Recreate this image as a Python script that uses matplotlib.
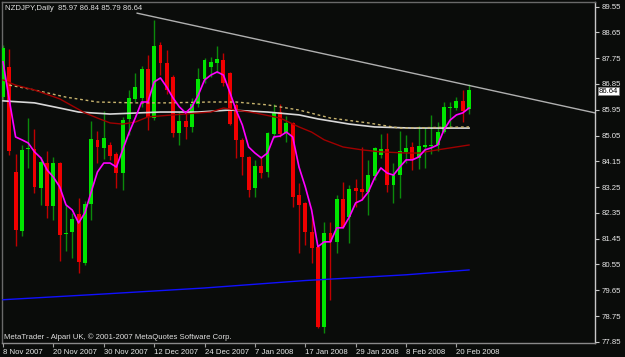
import matplotlib
matplotlib.use('Agg')
import matplotlib.pyplot as plt
from matplotlib.transforms import blended_transform_factory

plt.rcParams['font.family'] = ['Liberation Sans', 'DejaVu Sans']

# ---- data (NZDJPY daily, 8 Nov 2007 .. 22 Feb 2008) ----
opens = [86.39, 87.44, 83.78, 81.72, 84.58, 84.58, 83.22, 84.09, 82.59, 84.09,
         81.62, 81.69, 82.31, 80.61, 82.66, 84.90, 84.62, 84.72, 84.41, 83.74,
         85.63, 86.33, 86.36, 87.37, 85.66, 88.21, 87.58, 87.09, 85.14, 85.56,
         85.35, 86.15, 87.02, 87.44, 87.58, 87.68, 87.23, 86.12, 84.90, 84.30,
         83.22, 83.99, 83.78, 85.10, 85.87, 85.14, 85.49, 82.98, 82.70, 81.69,
         81.17, 78.38, 81.65, 81.34, 82.84, 82.21, 83.22, 83.19, 83.08, 83.64,
         84.37, 84.58, 83.33, 83.67, 84.48, 84.65, 84.27, 84.65, 84.69, 84.72,
         85.17, 86.01, 86.01, 86.26, 85.97]
highs = [88.21, 88.07, 84.41, 84.72, 85.66, 85.28, 84.30, 84.51, 84.30, 84.13,
         82.63, 82.35, 82.87, 82.77, 85.56, 85.21, 85.91, 84.83, 84.48, 85.70,
         86.64, 87.23, 87.48, 87.86, 89.08, 88.31, 88.03, 87.16, 85.87, 85.87,
         86.36, 87.41, 87.75, 87.79, 88.17, 87.93, 87.27, 86.19, 84.97, 84.34,
         84.20, 84.30, 85.17, 86.15, 86.15, 85.73, 85.52, 83.40, 82.73, 82.28,
         81.20, 82.04, 82.04, 82.98, 83.43, 83.33, 83.54, 84.65, 84.20, 84.65,
         85.10, 85.14, 84.09, 85.21, 85.07, 84.83, 85.38, 85.31, 85.77, 85.52,
         86.22, 86.22, 86.39, 86.64, 86.84]
lows = [86.29, 84.37, 81.20, 81.55, 83.92, 83.05, 82.63, 82.18, 82.11, 80.68,
        81.03, 80.78, 80.26, 80.54, 82.11, 84.09, 84.23, 84.20, 83.22, 83.15,
        85.07, 86.22, 86.05, 85.24, 85.59, 87.16, 86.50, 85.00, 84.72, 84.93,
        85.17, 86.05, 86.88, 87.09, 87.23, 86.78, 85.42, 84.27, 83.67, 82.91,
        82.91, 83.57, 83.60, 84.97, 85.00, 84.83, 82.56, 80.95, 81.23, 80.61,
        78.34, 78.17, 79.32, 80.95, 81.83, 81.30, 82.56, 82.80, 82.28, 83.50,
        84.27, 83.08, 82.70, 82.87, 84.09, 83.85, 83.88, 83.92, 84.41, 84.51,
        85.14, 85.31, 85.94, 85.52, 85.79]
closes = [88.10, 84.51, 81.76, 84.55, 84.62, 83.26, 84.13, 82.59, 84.09, 81.58,
          81.65, 82.14, 80.64, 82.66, 84.93, 84.65, 84.97, 84.34, 83.74, 85.59,
          86.36, 86.74, 87.37, 85.70, 88.17, 87.58, 86.64, 85.14, 85.56, 85.35,
          86.15, 87.02, 87.68, 87.62, 87.72, 86.88, 85.45, 84.90, 84.30, 83.15,
          83.99, 83.74, 85.14, 85.84, 85.10, 85.49, 82.91, 82.63, 81.69, 81.13,
          78.38, 81.65, 81.34, 82.84, 81.86, 83.19, 83.12, 83.08, 83.67, 84.62,
          84.58, 83.33, 83.67, 84.51, 84.62, 84.23, 84.69, 84.72, 84.72, 85.17,
          86.05, 86.05, 86.26, 85.91, 86.64]

# magenta fast moving average, one value per bar
ma_fast = [87.62, 86.29, 85.00, 84.90, 84.79, 84.48, 84.27, 83.85, 83.60, 83.26,
           82.63, 82.45, 82.00, 82.35, 83.08, 83.78, 84.09, 84.09, 83.95, 84.55,
           85.14, 85.66, 86.22, 86.22, 86.92, 87.06, 86.74, 86.36, 86.05, 85.84,
           86.05, 86.46, 86.99, 87.16, 87.27, 87.16, 86.57, 85.94, 85.42, 84.65,
           84.44, 84.27, 84.44, 85.00, 85.03, 85.17, 85.00, 83.95, 83.26, 82.45,
           81.17, 81.34, 81.34, 81.83, 81.83, 82.21, 82.70, 82.80, 83.08, 83.57,
           83.92, 83.74, 83.67, 83.95, 84.20, 84.20, 84.30, 84.55, 84.62, 84.72,
           85.24, 85.59, 85.77, 85.84, 86.01]

# dark red moving average (sampled)
ma_mid_idx = [0, 2, 5, 9, 13, 15, 17, 19, 21, 23, 27, 33, 35, 40, 44, 47, 49,
              51, 54, 57, 60, 64, 66, 69, 74]
ma_mid = [86.99, 86.81, 86.64, 86.33, 85.84, 85.66, 85.49, 85.45, 85.52, 85.70,
          85.77, 85.87, 86.01, 85.84, 85.66, 85.35, 85.17, 84.90, 84.65, 84.55,
          84.48, 84.44, 84.44, 84.55, 84.72]

# khaki dotted moving average (sampled)
ma_slow_idx = [1, 5, 10, 15, 21, 26, 33, 37, 42, 47, 52, 58, 63, 74]
ma_slow = [86.81, 86.64, 86.39, 86.22, 86.19, 86.19, 86.22, 86.22, 86.12, 85.94,
           85.66, 85.49, 85.31, 85.35]

# light grey moving average (sampled)
ma_long_idx = [0, 5, 9, 12, 17, 25, 31, 36, 42, 47, 50, 55, 59, 65, 74]
ma_long = [86.26, 86.19, 86.01, 85.87, 85.80, 85.87, 85.87, 85.94, 85.87, 85.77,
           85.63, 85.45, 85.35, 85.31, 85.31]

# blue long-term line (sampled)
blue_idx = [0, 16, 32, 48, 64, 74]
blue_vals = [79.32, 79.52, 79.73, 79.99, 80.19, 80.36]

# drawn trend line (anchor points)
trend_idx = [21.3, 94.0]
trend_vals = [89.32, 85.84]

date_idx = [0, 8, 16, 24, 32, 40, 48, 56, 64, 72]
date_labels = ['8 Nov 2007', '20 Nov 2007', '30 Nov 2007', '12 Dec 2007',
               '24 Dec 2007', '7 Jan 2008', '17 Jan 2008', '29 Jan 2008',
               '8 Feb 2008', '20 Feb 2008']
price_ticks = [77.85, 78.75, 79.65, 80.55, 81.45, 82.35, 83.25, 84.15, 85.05,
               85.95, 86.85, 87.75, 88.65, 89.55]

title_text = 'NZDJPY,Daily  85.97 86.84 85.79 86.64'
footer_text = 'MetaTrader - Alpari UK, \u00a9 2001-2007 MetaQuotes Software Corp.'
last_price = 86.64

# ---- figure ----
BG = '#0a0c0a'
FS = 5.6
W, H = 625, 357
fig = plt.figure(figsize=(W / 100, H / 100), dpi=100)
fig.patch.set_facecolor(BG)
ax = fig.add_axes([2 / W, 14 / H, 593 / W, 341 / H])
ax.set_facecolor(BG)

n = len(opens)
xs = list(range(n))

# wicks
for i in range(n):
    up = closes[i] >= opens[i]
    ax.vlines(xs[i], lows[i], highs[i], color='#0b8a0b' if up else '#c00000',
              lw=1.0, zorder=2)
# bodies
for i in range(n):
    up = closes[i] >= opens[i]
    lo = min(opens[i], closes[i])
    hgt = max(abs(closes[i] - opens[i]), 0.03)
    ax.bar(xs[i], hgt, bottom=lo, width=0.62,
           color='#00e600' if up else '#f00000', edgecolor='none',
           linewidth=0, zorder=3)

# indicator lines
ax.plot(blue_idx, blue_vals, color='#1010ff', lw=1.0, zorder=4)
ax.plot(ma_long_idx, ma_long, color='#d8d8d8', lw=1.2, zorder=4)
ax.plot(ma_slow_idx, ma_slow, color='#c8b46e', lw=1.0, ls=(0, (2, 2)), zorder=4)
ax.plot(ma_mid_idx, ma_mid, color='#a00000', lw=1.0, zorder=4)
ax.plot(xs, ma_fast, color='#ff00ff', lw=1.2, zorder=5)
ax.plot(trend_idx, trend_vals, color='#b0b0b0', lw=1.0, zorder=4)

ax.set_xlim(-0.16, 94.0)
ax.set_ylim(77.81, 89.71)

# axes styling
for side, col in [('left', '#6a6a6a'), ('top', '#6a6a6a'),
                  ('right', '#c8c8c8'), ('bottom', '#8a8a8a')]:
    ax.spines[side].set_color(col)
    ax.spines[side].set_linewidth(1.0)

ax.yaxis.tick_right()
ax.set_yticks(price_ticks)
ax.set_yticklabels(['%.2f' % v for v in price_ticks])
ax.tick_params(axis='y', which='both', length=3, width=0.8, color='#c8c8c8',
               pad=2, labelsize=FS, labelcolor='#e8e8e8', left=False)
ax.set_xticks(date_idx)
ax.set_xticklabels(date_labels, ha='left')
ax.tick_params(axis='x', which='both', length=3, width=0.8, color='#a0a0a0',
               pad=1.5, labelsize=FS, labelcolor='#e8e8e8')

fig.text(5 / W, 1 - 8 / H, title_text, ha='left', va='center',
         color='#e0e0e0', fontsize=FS)
fig.text(4 / W, 1 - 337 / H, footer_text, ha='left', va='center',
         color='#e0e0e0', fontsize=FS)

tr = blended_transform_factory(fig.transFigure, ax.transData)
ax.text(599 / W, last_price - 0.04, '%.2f' % last_price, transform=tr, ha='left',
        va='center', fontsize=FS, color='black', zorder=10, clip_on=False,
        bbox=dict(facecolor='white', edgecolor='#808080', pad=0.6, lw=0.5))

fig.savefig('out.png', dpi=100, facecolor=BG)
